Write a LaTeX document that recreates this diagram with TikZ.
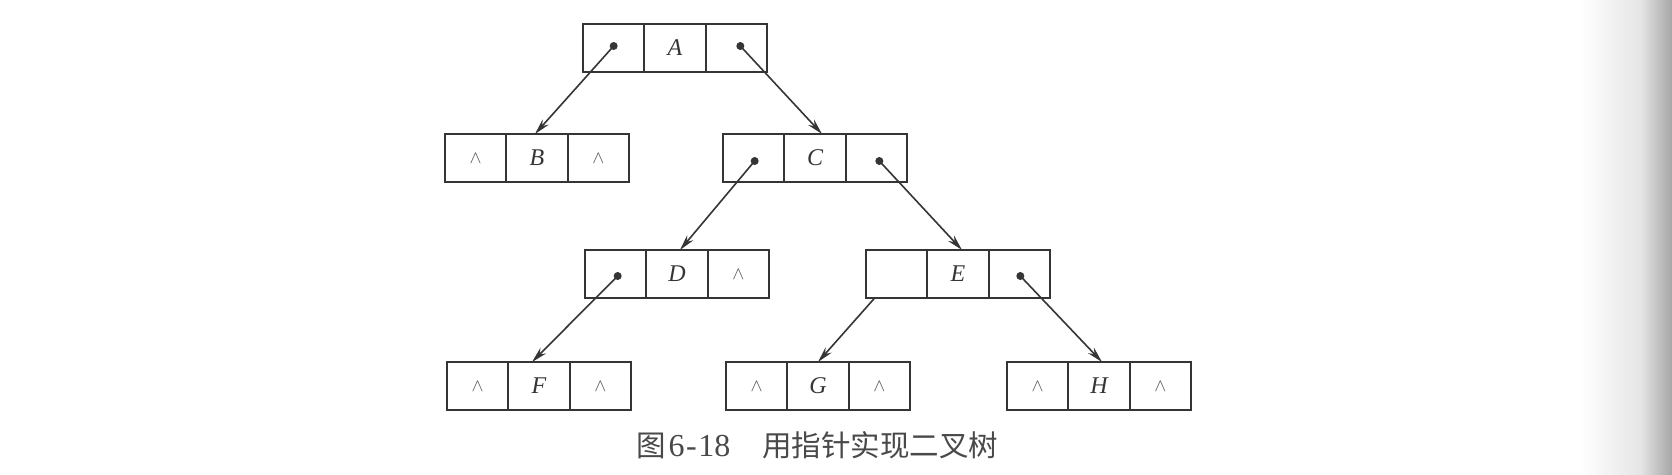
\RequirePackage{fix-cm}
\documentclass[tikz,border=0pt]{standalone}
\usepackage{fontspec}
\setmainfont{Liberation Serif}
\newfontfamily\cjk{Noto Sans CJK SC}
\usetikzlibrary{arrows.meta}
\definecolor{ink}{HTML}{353535}
\tikzset{
  cell/.style={draw=ink, line width=1.8pt, minimum width=61.33pt, minimum height=48pt,
    inner sep=0pt, outer sep=0pt, anchor=north west, text=ink},
  ptr/.style={draw=ink, line width=1.6pt, -{Stealth[length=16pt,width=8pt]}},
  ptrdot/.style={fill=ink},
  labtext/.style={font=\fontsize{24}{24}\selectfont\itshape},
  captext/.style={inner sep=0pt, anchor=base west, text=ink!90},
}
\newcommand\nilmark{{\color{ink!85}\fontsize{18}{18}\selectfont$\wedge$}}
\newcommand\trec[6]{% name, x, y, left, mid, right
  \node[cell] (#1-l) at (#2,#3) {#4};
  \node[cell, labtext] (#1-m) at (#1-l.north east) {#5};
  \node[cell] (#1-r) at (#1-m.north east) {#6};
}
\begin{document}
\begin{tikzpicture}[x=1pt, y=-1pt]
  \useasboundingbox (0,0) rectangle (1672,474);
  \fill[white] (0,0) rectangle (1672,474);
  \shade[left color=white, right color=black!10] (1580,0) rectangle (1640,474);
  \shade[left color=black!10, right color=black!35] (1640,0) rectangle (1672,474);

  \trec{A}{583}{24}{}{A}{}
  \trec{B}{445}{134}{\nilmark}{B}{\nilmark}
  \trec{C}{723}{134}{}{C}{}
  \trec{D}{585}{250}{}{D}{\nilmark}
  \trec{E}{866}{250}{}{E}{}
  \trec{F}{447}{362}{\nilmark}{F}{\nilmark}
  \trec{G}{726}{362}{\nilmark}{G}{\nilmark}
  \trec{H}{1007}{362}{\nilmark}{H}{\nilmark}

  % pointer origins
  \coordinate (pA1) at ([shift={(0,-2)}]A-l.center);
  \coordinate (pA2) at ([shift={(4,-2)}]A-r.center);
  \coordinate (pC1) at ([shift={(1,3)}]C-l.center);
  \coordinate (pC2) at ([shift={(3,3)}]C-r.center);
  \coordinate (pD1) at ([shift={(2,2)}]D-l.center);
  \coordinate (pE1) at ([xshift=-22]E-l.south);
  \coordinate (pE2) at ([shift={(1,2)}]E-r.center);

  \foreach \p in {pA1,pA2,pC1,pC2,pD1,pE2}
    \fill[ptrdot] (\p) circle (4);

  \draw[ptr] (pA1) -- ([xshift=-2]B-m.north);
  \draw[ptr] (pA2) -- ([xshift=7]C-m.north);
  \draw[ptr] (pC1) -- ([xshift=3]D-m.north);
  \draw[ptr] (pC2) -- ([xshift=4]E-m.north);
  \draw[ptr] (pD1) -- ([xshift=-7]F-m.north);
  \draw[ptr] (pE1) -- (G-m.north);
  \draw[ptr] (pE2) -- ([xshift=3]H-m.north);

  \node[captext] (cap1) at (636,456) {\fontsize{29.5}{29.5}\selectfont{\cjk 图}\kern3pt\fontsize{32}{32}\selectfont 6\kern1.5pt-\kern1.5pt18};
  \node[captext] (cap2) at (762,456) {\fontsize{29.5}{29.5}\selectfont\cjk 用指针实现二叉树};
\end{tikzpicture}
\end{document}
